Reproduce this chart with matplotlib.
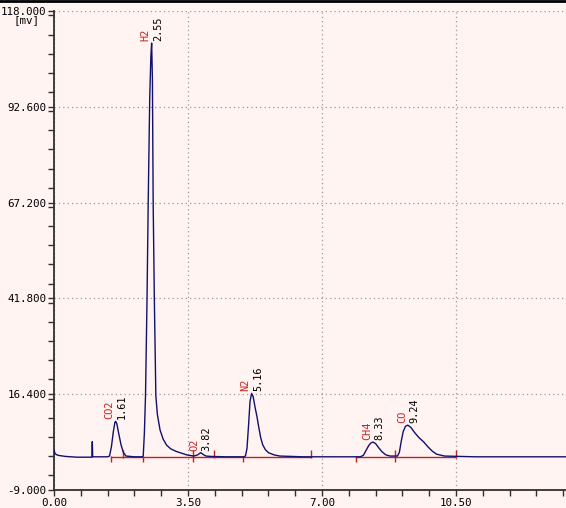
import numpy as np
import matplotlib
matplotlib.use("Agg")
import matplotlib.pyplot as plt
from matplotlib.ticker import FixedLocator, MultipleLocator, FuncFormatter

# ---------------- data ----------------
trace_t = [0.00, 0.03, 0.10, 0.30, 0.60, 0.99, 1.00, 1.01, 1.20, 1.40,
           1.45, 1.50, 1.55, 1.59, 1.61, 1.64, 1.69, 1.75, 1.81, 1.88,
           2.10, 2.30, 2.33, 2.36, 2.39, 2.43, 2.46, 2.50, 2.53, 2.55,
           2.57, 2.59, 2.62, 2.66, 2.70, 2.77, 2.85, 2.94, 3.05, 3.20,
           3.47, 3.65, 3.75, 3.83, 3.90, 3.97, 4.10, 4.50, 4.95, 5.00,
           5.04, 5.08, 5.12, 5.16, 5.20, 5.25, 5.30, 5.35, 5.40, 5.45,
           5.52, 5.60, 5.75, 5.90, 6.50, 7.50, 8.00, 8.08, 8.15, 8.22,
           8.28, 8.33, 8.40, 8.48, 8.57, 8.67, 8.78, 8.97, 9.02, 9.07,
           9.12, 9.18, 9.24, 9.32, 9.42, 9.53, 9.65, 9.77, 9.88, 9.99,
           10.20, 11.00, 13.40]
trace_mv = [1.6, 0.6, 0.2, -0.1, -0.3, -0.3, 3.8, -0.2, -0.2, -0.2,
            0.0, 2.5, 6.5, 8.9, 9.2, 8.6, 6.0, 3.0, 1.0, 0.0,
            -0.2, -0.2, 0.0, 6.0, 16.0, 42.0, 67.0, 95.0, 106.0, 109.5,
            100.0, 67.0, 42.0, 16.0, 11.0, 6.9, 4.5, 2.9, 1.9, 1.2,
            0.3, 0.0, 0.3, 0.9, 0.4, 0.0, -0.1, -0.2, -0.2, 0.0,
            2.0, 8.0, 14.5, 16.6, 15.8, 13.0, 10.5, 7.5, 4.8, 3.0,
            1.7, 0.9, 0.3, 0.0, -0.2, -0.2, -0.2, 0.2, 1.5, 2.8,
            3.5, 3.7, 3.3, 2.2, 1.1, 0.3, 0.0, 0.0, 1.0, 4.0,
            6.5, 7.9, 8.2, 7.6, 6.2, 4.9, 3.8, 2.4, 1.3, 0.5,
            0.0, -0.2, -0.2]

peak_names = ["CO2", "H2", "O2", "N2", "CH4", "CO"]
peak_times = [1.61, 2.55, 3.82, 5.16, 8.33, 9.24]

baseline_mv = -0.2
seg_starts = [1.49, 7.90]
seg_ends = [6.70, 10.50]
mark_starts = [1.49, 2.32, 3.64, 4.94, 7.90, 8.91]
mark_ends = [1.79, 3.64, 4.19, 6.70, 8.91, 10.50]

y_major = [-9.0, 16.4, 41.8, 67.2, 92.6, 118.0]
x_major = [0.00, 3.50, 7.00, 10.50, 14.00]

# ---------------- styling ----------------
bg = "#FFF4F2"
navy = "#10106E"
red = "#C81E1E"
mono = "DejaVu Sans Mono"

fig = plt.figure(figsize=(5.66, 5.08), dpi=100, facecolor=bg)
ax = fig.add_axes([54 / 566, 18 / 508, 512 / 566, 479 / 508], facecolor=bg)

ax.set_xlim(0, 512 / 38.29)
ax.set_ylim(-9.0, 118.0)

# grid
for v in y_major:
    ax.axhline(v, color="#9A9A9A", lw=0.9, ls=(0, (1, 2.5)), zorder=0)
for v in x_major:
    ax.axvline(v, color="#9A9A9A", lw=0.9, ls=(0, (1, 2.5)), zorder=0)

# integration baseline (red)
for s, e in zip(seg_starts, seg_ends):
    ax.plot([s, e], [baseline_mv, baseline_mv], color=red, lw=1.0, zorder=2)
ax.vlines(mark_starts, baseline_mv - 1.4, baseline_mv + 0.3, color=red, lw=1.0, zorder=2)
ax.vlines(mark_ends, baseline_mv - 0.3, baseline_mv + 1.8, color=red, lw=1.0, zorder=2)

# trace
ax.plot(trace_t, trace_mv, color=navy, lw=1.0, zorder=3)

# peak labels
for name, t in zip(peak_names, peak_times):
    h = float(np.interp(t, trace_t, trace_mv))
    ax.annotate(name, xy=(t, h), xytext=(-6, 2), textcoords="offset pixels",
                rotation=90, ha="center", va="bottom", color=red,
                fontsize=7.4, family=mono, zorder=4)
    ax.annotate(f"{t:.2f}", xy=(t, h), xytext=(6.5, 2), textcoords="offset pixels",
                rotation=90, ha="center", va="bottom", color="black",
                fontsize=7.4, family=mono, zorder=4)

# axes / ticks
for side in ("top", "right"):
    ax.spines[side].set_visible(False)
for side in ("left", "bottom"):
    ax.spines[side].set_color("#303030")
    ax.spines[side].set_linewidth(1.3)

ax.yaxis.set_major_locator(FixedLocator(y_major))
ax.yaxis.set_minor_locator(MultipleLocator(5.08))
ax.xaxis.set_major_locator(FixedLocator(x_major))
ax.xaxis.set_minor_locator(MultipleLocator(0.7))
ax.yaxis.set_major_formatter(FuncFormatter(lambda v, p: f"{v:.3f}"))
ax.xaxis.set_major_formatter(FuncFormatter(lambda v, p: f"{v:.2f}"))
ax.tick_params(which="both", direction="out", length=4, width=1.0, color="#303030")
ax.tick_params(axis="both", which="major", labelsize=7.8, pad=1.5)
for lab in ax.get_xticklabels() + ax.get_yticklabels():
    lab.set_family(mono)
for lab in ax.get_yticklabels():
    lab.set_va("center_baseline")

fig.text(40 / 566, 1 - 20.5 / 508, "[mv]", ha="right", va="center",
         fontsize=7.8, family=mono)

# top border line of the window
fig.add_artist(plt.Line2D([0, 1], [1 - 1 / 508, 1 - 1 / 508], color="black", lw=2,
                          transform=fig.transFigure))

fig.savefig("out.png", dpi=100, facecolor=bg)
